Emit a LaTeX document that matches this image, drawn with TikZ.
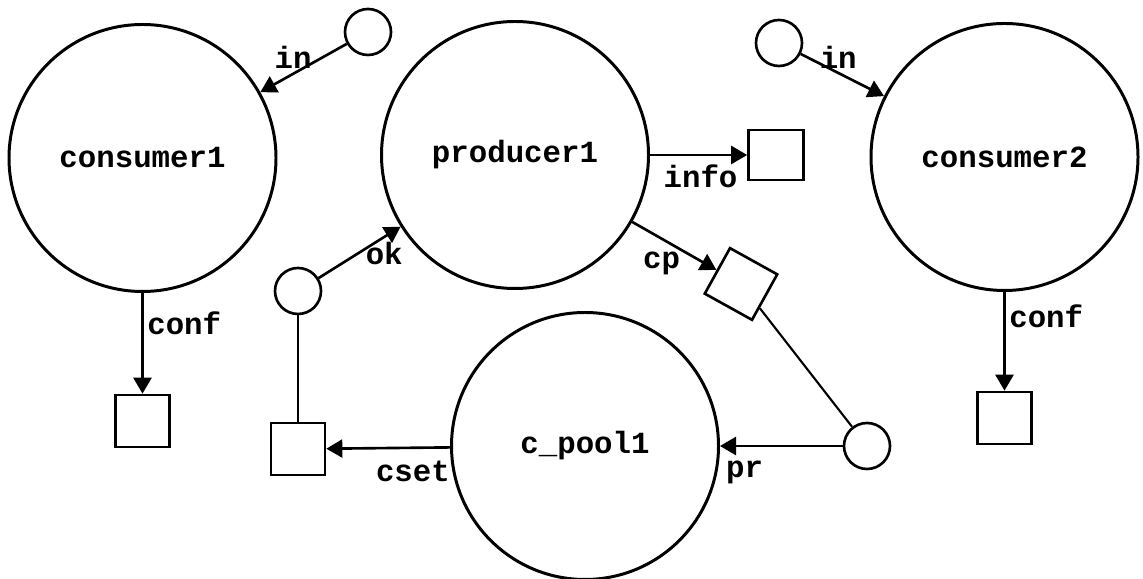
\documentclass[tikz,border=0pt]{standalone}
\usepackage{fontspec}
\setmonofont{Liberation Mono}
\usetikzlibrary{arrows.meta,positioning}
\newcommand{\lbl}{\fontsize{17.5}{20}\selectfont\ttfamily\bfseries}
\tikzset{proc/.style={circle, draw, line width=1.7pt, minimum size=5.34cm, inner sep=0pt, font=\lbl}}
\tikzset{port/.style={circle, draw, line width=1.5pt, minimum size=0.92cm, inner sep=0pt}}
\tikzset{chan/.style={rectangle, draw, line width=1.5pt, minimum width=1.08cm, minimum height=1.04cm, inner sep=0pt}}
\tikzset{arr/.style={draw, line width=1.5pt, -{Triangle[length=0.32cm,width=0.36cm]}}}
\tikzset{link/.style={draw, line width=1.2pt}}
\tikzset{tag/.style={font=\lbl, inner sep=2pt}}

\begin{document}
\begin{tikzpicture}
	\useasboundingbox (0,0) rectangle (22.86,11.58);

	\node[proc] (cons1) at (2.85,8.42) {consumer1};
	\node[proc] (prod) at (10.30,8.48) {producer1};
	\node[proc] (cons2) at (20.09,8.44) {consumer2};
	\node[proc] (pool) at (11.70,2.66) {c\_pool1};

	\node[port] (in1) at (7.36,10.94) {};
	\node[port] (in2) at (15.58,10.72) {};
	\node[port] (okp) at (5.96,5.76) {};
	\node[port] (prp) at (17.34,2.66) {};

	\node[chan] (conf1) at (2.85,3.16) {};
	\node[chan] (conf2) at (20.09,3.22) {};
	\node[chan, minimum width=1.1cm, minimum height=1.0cm] (info) at (15.52,8.48) {};
	\node[chan, rotate=-29] (cpbox) at (14.82,5.90) {};
	\node[chan] (cset) at (5.96,2.60) {};

	\draw[arr] (in1) -- node[tag, pos=0.62, above] (lin1) {in} (cons1);
	\draw[arr] (in2) -- node[tag, pos=0.45, above] (lin2) {in} (cons2);
	\draw[arr] (okp) -- node[tag, pos=0.8, below] (lok) {ok} (prod);
	\draw[arr] (prod) -- node[tag, pos=0.52, below=3pt] (linfo) {info} (info);
	\draw[arr] (prod) -- node[tag, pos=0.35, below=5pt] (lcp) {cp} (cpbox);
	\draw[arr] (cons1) -- node[tag, pos=0.3, right] (lconf1) {conf} (conf1);
	\draw[arr] (cons2) -- node[tag, pos=0.25, right] (lconf2) {conf} (conf2);
	\draw[arr] (prp) -- node[tag, pos=0.8, below=6pt] (lpr) {pr} (pool);
	\draw[arr] (pool) -- node[tag, pos=0.3, below=5pt] (lcset) {cset} (cset);

	\draw[link] (cpbox) -- (prp);
	\draw[link] (cset) -- (okp);
\end{tikzpicture}
\end{document}
